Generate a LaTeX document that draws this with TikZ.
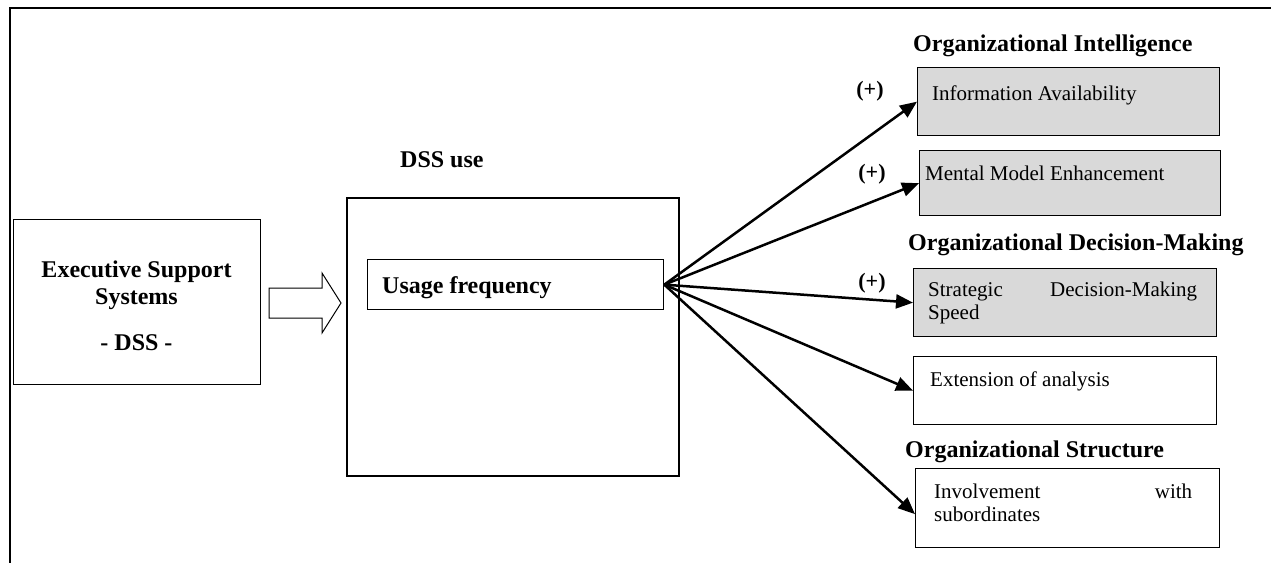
\documentclass[tikz,border=0pt]{standalone}
\usepackage{fontspec}
\setmainfont{Liberation Serif}
\usetikzlibrary{arrows.meta}
\definecolor{boxgray}{RGB}{217,217,217}

\begin{document}
\begin{tikzpicture}[x=1pt, y=-1pt,
	box/.style={shape=rectangle, draw=black, line width=1.3pt, anchor=north west, inner sep=0pt},
	greybox/.style={box, fill=boxgray},
	head/.style={anchor=base west, inner sep=0pt, font=\fontsize{24}{27}\selectfont\bfseries},
	txt/.style={anchor=base west, inner sep=0pt, font=\fontsize{21}{23.5}\selectfont},
	plus/.style={inner sep=0pt, font=\fontsize{22}{24}\selectfont\bfseries},
	link/.style={-{Triangle[length=17pt, width=14pt]}, line width=2.5pt}]

	\useasboundingbox (0,0) rectangle (1271,563);
	\draw[line width=2pt] (1271,8) -- (10,8) -- (10,563);

	% left part
	\node[box, minimum width=247pt, minimum height=165pt] (ess) at (13,219) {};
	\node[head, anchor=north, align=center] (esstxt) at (136.5,261) {Executive Support\\Systems\\[19pt]- DSS -};
	\draw[line width=1pt] (269,288) -- (322,288) -- (322,273) -- (341,303) -- (322,333) -- (322,318) -- (269,318) -- cycle;

	\node[box, line width=2pt, minimum width=332pt, minimum height=278pt] (dss) at (346,197) {};
	\node[head] (dsslabel) at (400,167) {DSS use};
	\node[box, minimum width=296pt, minimum height=50pt] (usage) at (367,259) {};
	\node[head] (usagetxt) at (382,293) {Usage frequency};

	% right part
	\node[head] (intel) at (913,51) {Organizational Intelligence};
	\node[greybox, minimum width=302pt, minimum height=68pt] (info) at (917,67) {};
	\node[txt] (infotxt) at (932,100) {Information Availability};
	\node[greybox, minimum width=301pt, minimum height=65pt] (mental) at (919,150) {};
	\node[txt] (mentaltxt) at (925,180) {Mental Model Enhancement};

	\node[head] (decis) at (908,250) {Organizational Decision-Making};
	\node[greybox, minimum width=303pt, minimum height=68pt] (speed) at (913,268) {};
	\node[txt, anchor=north west, text width=269pt, align=left] (speedtxt) at (928,281.7) {Strategic \hfill Decision-Making\\Speed};
	\node[box, minimum width=303pt, minimum height=68pt] (ext) at (913,356) {};
	\node[txt] (exttxt) at (930,386) {Extension of analysis};

	\node[head] (struct) at (905,457) {Organizational Structure};
	\node[box, minimum width=304pt, minimum height=79pt] (invol) at (915,468) {};
	\node[txt, anchor=north west, text width=258pt, align=left] (involtxt) at (934,483.7) {Involvement \hfill with\\subordinates};

	\node[plus] (plusA) at (870,91) {(+)};
	\node[plus] (plusB) at (872,174) {(+)};
	\node[plus] (plusC) at (872,283) {(+)};

	\path[link] (usage.east) edge (info.west);
	\path[link] (usage.east) edge (mental.west);
	\path[link] (usage.east) edge (speed.west);
	\path[link] (usage.east) edge (ext.west);
	\path[link] (usage.east) edge ([yshift=-6pt]invol.west);

\end{tikzpicture}
\end{document}
